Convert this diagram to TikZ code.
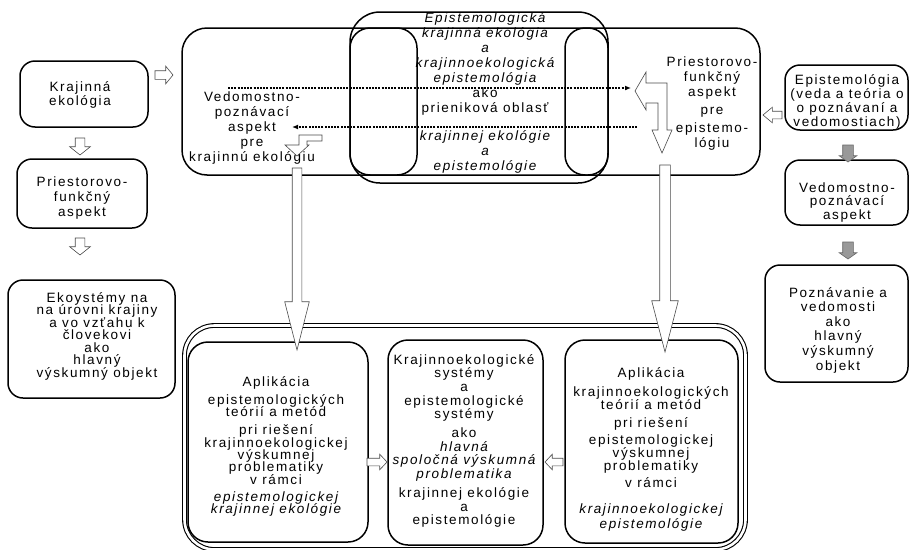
\documentclass[tikz,border=0pt]{standalone}
\usepackage{fontspec}
\setmainfont{Liberation Sans}[LetterSpace=12]
\usetikzlibrary{shapes.arrows,arrows.meta,calc}
\newcommand\mylines[2]{\vtop{\baselineskip=#1pt\lineskiplimit=-30pt\halign{\hfil##\hfil\cr#2\crcr}}}
\newcommand\br[1]{\cr\noalign{\vskip#1pt}}
\newcommand\rbox[6]{\node[box=#6, minimum width={(#4)-(#2)}, minimum height={(#5)-(#3)}] (#1) at ({((#2)+(#4))/2},{((#3)+(#5))/2}) {};}
\begin{document}
\begin{tikzpicture}[x=1pt,y=-1pt,
 box/.style={draw, line width=1.5pt, rounded corners=#1, inner sep=0pt, outer sep=0pt},
 box/.default=15pt,
 txt/.style={inner sep=0pt, outer sep=0pt, anchor=base, font=\fontsize{13.5}{14}\selectfont},
 harrow/.style={single arrow, draw=black!70, fill=white, line width=0.6pt, inner xsep=0pt, outer sep=0pt, anchor=tip},
 garrow/.style={harrow, fill=black!40, draw=black!60},
 barrow/.style={draw=black!70, fill=white, line width=0.6pt, line join=miter},
 dotarrow/.style={line width=1.4pt, dash pattern=on 2pt off 1.2pt, -{Latex[length=6pt,width=5pt]}}
]
\fill[white] (0,0) rectangle (909,549);
\useasboundingbox (0,0) rectangle (909,549);

% left column
\rbox{kraj}{20}{61}{148}{127}{15pt}
\rbox{pri}{17}{159}{147}{228}{15pt}
\rbox{eko}{8}{280}{175}{398}{15pt}
% right column
\rbox{epi}{785}{65}{908}{130}{15pt}
\rbox{ved}{785}{160}{908}{225}{15pt}
\rbox{poz}{765}{265}{908}{382}{15pt}
% top structure
\rbox{top}{182}{28}{760}{175}{25pt}
\rbox{mid}{350}{12}{608}{183}{30pt}
\rbox{pillL}{350}{28}{417}{175}{20pt}
\rbox{pillR}{565}{28}{608}{175}{20pt}
% bottom structure
\node[draw, line width=1.1pt, double, double distance=2.6pt, rounded corners=30pt, inner sep=0pt, outer sep=0pt, minimum width=561pt, minimum height=224pt] (outer) at (465,437.5) {};
\rbox{apA}{188}{342}{368}{542}{20pt}
\rbox{sys}{388}{340}{543}{545}{20pt}
\rbox{apB}{565}{340}{738}{543}{20pt}

% texts
\node[txt] (tkraj) at (80,91) {\mylines{14}{Krajinná\cr ekológia}};
\node[txt] (tpri) at (82,186) {\mylines{15}{Priestorovo-\cr funkčný\cr aspekt}};
\node[txt] (teko) at (97,302) {\mylines{12.5}{Ekoystémy na\cr na úrovni krajiny\cr a vo vzťahu k\cr človekovi\cr ako\cr hlavný\cr výskumný objekt}};
\node[txt] (tepi) at (847,84) {\mylines{14}{Epistemológia\cr (veda a teória o\cr o poznávaní a\cr vedomostiach)}};
\node[txt] (tved) at (847,192) {\mylines{13.5}{Vedomostno-\cr poznávací\cr aspekt}};
\node[txt] (tpoz) at (838,297) {\mylines{14.6}{Poznávanie a\cr vedomosti\cr ako\cr hlavný\cr výskumný\cr objekt}};
\node[txt] (ttl) at (252,101) {\mylines{15}{Vedomostno-\cr poznávací\cr aspekt\cr pre\cr krajinnú ekológiu}};
\node[txt] (tmid) at (485,22) {\mylines{15}{\itshape Epistemologická\cr \itshape krajinná ekológia\cr \itshape a\cr \itshape krajinnoekologická\cr \itshape epistemológia\cr ako\cr prieniková oblasť\br{13}\itshape krajinnej ekológie\cr \itshape a\cr \itshape epistemológie}};
\node[txt] (ttr) at (712,66) {\mylines{15}{Priestorovo-\cr funkčný\cr aspekt\br{3}pre\br{3}epistemo-\cr lógiu}};
\node[txt] (tapA) at (276,386) {\mylines{12}{Aplikácia\br{6}epistemologických\cr teórií a metód\br{6}pri riešení\br{1}krajinnoekologickej\cr výskumnej\cr problematiky\br{1}v rámci\br{5}\itshape epistemologickej\cr \itshape krajinnej ekológie}};
\node[txt] (tsys) at (464,364) {\mylines{13.7}{Krajinnoekologické\cr systémy\cr a\cr epistemologické\cr systémy\br{5}ako\cr \itshape hlavná\cr \itshape spoločná výskumná\cr \itshape problematika\br{5}krajinnej ekológie\cr a\cr epistemológie}};
\node[txt] (tapB) at (651,377) {\mylines{13}{Aplikácia\br{6}krajinnoekologických\cr teórií a metód\br{5}pri riešení\br{4}epistemologickej\cr výskumnej\cr problematiky\br{4}v rámci\br{13}\itshape krajinnoekologickej\br{2}\itshape epistemológie}};

% dotted arrows
\coordinate (d1a) at (228,88);
\coordinate (d1b) at (631,88);
\coordinate (d2a) at (637,127);
\coordinate (d2b) at (292,127);
\draw[dotarrow] (d1a) -- (d1b);
\draw[dotarrow] (d2a) -- (d2b);

% bent block arrows
\draw[barrow] (635,91) -- (646,72) -- (646,83) -- (667,83) -- (667,130) -- (672,130) -- (662,153) -- (652,130) -- (658,130) -- (658,103) -- (646,103) -- (646,110) -- cycle;
\draw[barrow] (299,135) -- (322,135) -- (322,141) -- (307,141) -- (307,145) -- (309,145) -- (297,156) -- (285,145) -- (299,145) -- cycle;

% long block arrows
\node[harrow, rotate=-90, minimum height=182pt, inner ysep=4.5pt, single arrow head extend=7.5pt, single arrow tip angle=28.6] (bigL) at (297,350) {};
\node[harrow, rotate=-90, minimum height=187pt, inner ysep=5pt, single arrow head extend=8pt, single arrow tip angle=29.1] (bigR) at (665,352) {};

% small block arrows
\node[harrow, minimum height=18pt, inner ysep=4pt, single arrow head extend=4.5pt, single arrow tip angle=101] (a1) at (173,75) {};
\node[harrow, rotate=-90, minimum height=17pt, inner ysep=4.5pt, single arrow head extend=5.5pt, single arrow tip angle=102.7] (a2) at (80,155) {};
\node[harrow, rotate=-90, minimum height=17pt, inner ysep=4.5pt, single arrow head extend=5.5pt, single arrow tip angle=102.7] (a3) at (80,255) {};
\node[harrow, rotate=180, minimum height=19pt, inner ysep=3.5pt, single arrow head extend=4pt, single arrow tip angle=79.6] (a4) at (763,115) {};
\node[garrow, rotate=-90, minimum height=17pt, inner ysep=5pt, single arrow head extend=3.5pt, single arrow tip angle=109.5] (a5) at (848,162) {};
\node[garrow, rotate=-90, minimum height=17pt, inner ysep=5pt, single arrow head extend=3.5pt, single arrow tip angle=109.5] (a6) at (848,259) {};
\node[harrow, minimum height=20pt, inner ysep=3.5pt, single arrow head extend=4pt, single arrow tip angle=94] (a7) at (387,462) {};
\node[harrow, rotate=180, minimum height=18pt, inner ysep=3.5pt, single arrow head extend=4pt, single arrow tip angle=94] (a8) at (545,462) {};
\end{tikzpicture}
\end{document}
